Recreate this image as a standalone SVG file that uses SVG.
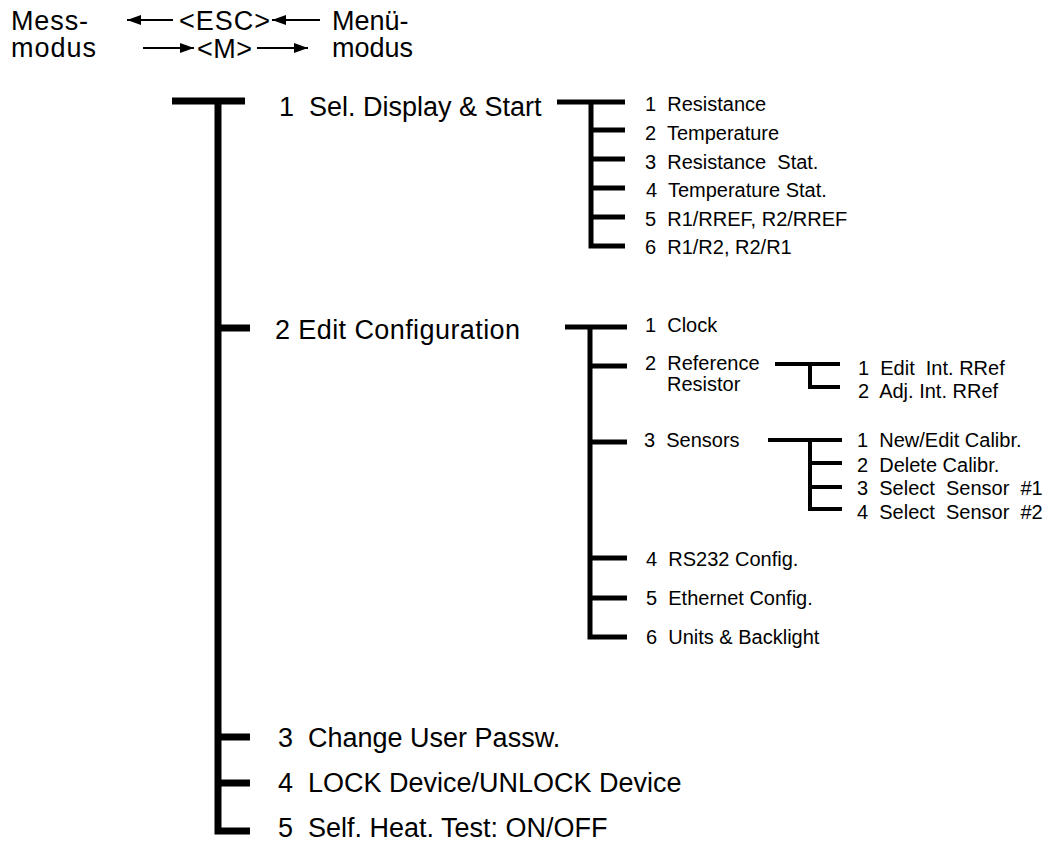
<svg xmlns="http://www.w3.org/2000/svg" width="1043" height="843" viewBox="0 0 1043 843">
<style>
text{font-family:"Liberation Sans",Arial,sans-serif;fill:#000;white-space:pre}
.hd{font-size:27px}
.m{font-size:27px}
.s{font-size:20px}
.l1{fill:none;stroke:#000;stroke-width:7}
.l2{fill:none;stroke:#000;stroke-width:5}
.l3{fill:none;stroke:#000;stroke-width:4}
.ar{fill:none;stroke:#000;stroke-width:2}
</style>
<defs>
<marker id="ah" viewBox="0 0 14 10" refX="14" refY="5" markerWidth="14" markerHeight="10" markerUnits="userSpaceOnUse" orient="auto">
<path d="M0,0 L14,5 L0,10 Z" fill="#000"/>
</marker>
</defs>
<rect width="1043" height="843" fill="#fff"/>
<g id="header">
<text class="hd" x="11" y="30" textLength="77">Mess-</text>
<text class="hd" x="11" y="57" textLength="85">modus</text>
<text class="hd" x="332" y="30">Menü-</text>
<text class="hd" x="332" y="57">modus</text>
<text class="hd" x="179" y="30" textLength="91">&lt;ESC&gt;</text>
<text class="hd" x="197" y="58" textLength="55">&lt;M&gt;</text>
</g>
<g id="connectors">
<g id="mode-arrows">
<path class="ar" d="M173,20 H127" marker-end="url(#ah)"/>
<path class="ar" d="M320,20 H272" marker-end="url(#ah)"/>
<path class="ar" d="M143,48 H194" marker-end="url(#ah)"/>
<path class="ar" d="M257,48 H308" marker-end="url(#ah)"/>
</g>
<g id="main-tree">
<path class="l1" d="M172,101 H245"/>
<path class="l1" d="M218,98 V831 H250"/>
<path class="l1" d="M218,328 H250 M218,737 H250 M218,783 H250"/>
</g>
<g id="display-tree">
<path class="l2" d="M557,102 H625 M591,102 V246 H625"/>
<path class="l2" d="M591,130 H625 M591,159 H625 M591,188 H625 M591,217 H625"/>
</g>
<g id="config-tree">
<path class="l2" d="M565,327 H627 M590,327 V637 H627"/>
<path class="l2" d="M590,366 H627 M590,442 H627 M590,558 H627 M590,598 H627"/>
</g>
<g id="ref-tree">
<path class="l3" d="M775,364 H840 M810,364 V387 H840"/>
</g>
<g id="sensor-tree">
<path class="l3" d="M768,440 H842 M810,440 V509 H842"/>
<path class="l3" d="M810,463 H842 M810,487 H842"/>
</g>
</g>
<g id="n1"><text class="m" x="279" y="116">1  Sel. Display &amp; Start</text></g>
<g id="n1-1"><text class="s" x="645" y="111">1  Resistance</text></g>
<g id="n1-2"><text class="s" x="645" y="140">2  Temperature</text></g>
<g id="n1-3"><text class="s" x="645" y="169">3  Resistance  Stat.</text></g>
<g id="n1-4"><text class="s" x="646" y="197">4  Temperature Stat.</text></g>
<g id="n1-5"><text class="s" x="645" y="226">5  R1/RREF, R2/RREF</text></g>
<g id="n1-6"><text class="s" x="645" y="254">6  R1/R2, R2/R1</text></g>
<g id="n2"><text class="m" x="275" y="339" textLength="245">2 Edit Configuration</text></g>
<g id="n2-1"><text class="s" x="645" y="332">1  Clock</text></g>
<g id="n2-2"><text class="s" x="645" y="370">2  Reference</text><text class="s" x="667" y="391">Resistor</text></g>
<g id="n2-2-1"><text class="s" x="858" y="375">1  Edit  Int. RRef</text></g>
<g id="n2-2-2"><text class="s" x="858" y="398">2  Adj. Int. RRef</text></g>
<g id="n2-3"><text class="s" x="644" y="447">3  Sensors</text></g>
<g id="n2-3-1"><text class="s" x="857" y="447">1  New/Edit Calibr.</text></g>
<g id="n2-3-2"><text class="s" x="857" y="472">2  Delete Calibr.</text></g>
<g id="n2-3-3"><text class="s" x="857" y="495">3  Select  Sensor  #1</text></g>
<g id="n2-3-4"><text class="s" x="857" y="519">4  Select  Sensor  #2</text></g>
<g id="n2-4"><text class="s" x="646" y="566">4  RS232 Config.</text></g>
<g id="n2-5"><text class="s" x="646" y="605">5  Ethernet Config.</text></g>
<g id="n2-6"><text class="s" x="646" y="644">6  Units &amp; Backlight</text></g>
<g id="n3"><text class="m" x="278" y="747">3  Change User Passw.</text></g>
<g id="n4"><text class="m" x="278" y="792">4  LOCK Device/UNLOCK Device</text></g>
<g id="n5"><text class="m" x="278" y="837">5  Self. Heat. Test: ON/OFF</text></g>
</svg>
